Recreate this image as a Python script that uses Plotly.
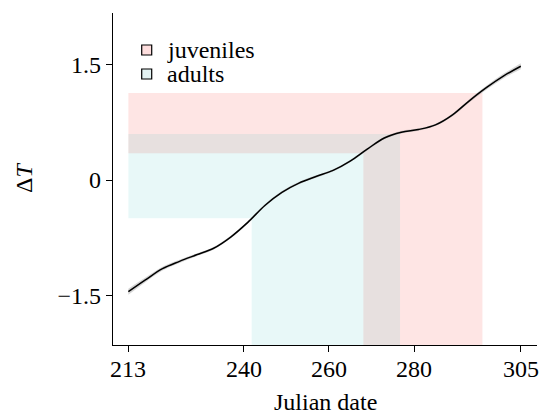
import plotly.graph_objects as go

# --- data ---
dates = [213, 217, 221, 225, 229, 233, 237, 241, 245, 249, 253, 257,
         261, 265, 269, 273, 277, 281, 285, 289, 293, 297, 301, 305]
delta_t = [-1.449, -1.296, -1.15, -1.055, -0.97, -0.885, -0.74, -0.55,
           -0.33, -0.16, -0.04, 0.045, 0.125, 0.245, 0.40, 0.545, 0.62,
           0.655, 0.715, 0.845, 1.03, 1.20, 1.35, 1.475]
ci_half = [0.04, 0.03, 0.025, 0.02, 0.018, 0.016, 0.016, 0.016, 0.016, 0.016,
           0.016, 0.016, 0.016, 0.016, 0.016, 0.016, 0.016, 0.016, 0.016, 0.018,
           0.02, 0.025, 0.03, 0.04]

groups = ["juveniles", "adults"]
group_dates = {"juveniles": [268.1, 296.0], "adults": [241.9, 276.7]}
group_dt = {"juveniles": [0.346, 1.13], "adults": [-0.497, 0.597]}
group_fill = {"juveniles": "rgba(248,118,109,0.19)", "adults": "rgba(0,175,180,0.09)"}
group_legend = {"juveniles": "rgb(254,222,222)", "adults": "rgb(228,243,243)"}

x_ticks = [213, 240, 260, 280, 305]
x_ticktext = ["213", "240", "260", "280", "305"]
y_ticks = [-1.5, 0, 1.5]
y_ticktext = ["\u22121.5", "0", "1.5"]

x_range = [209.4, 308.8]
y_range = [-2.14, 2.166]

FONT = "Liberation Serif, Times New Roman, DejaVu Serif, serif"
FS = 24

fig = go.Figure()

x0 = dates[0]
for g in groups:
    d1, d2 = group_dates[g]
    t1, t2 = group_dt[g]
    ymin = y_range[0]
    fig.add_trace(go.Scatter(
        x=[x0, d1, d1, d2, d2, x0, x0],
        y=[t1, t1, ymin, ymin, t2, t2, t1],
        fill="toself", fillcolor=group_fill[g], mode="none",
        hoverinfo="skip", showlegend=False))

upper = [v + h for v, h in zip(delta_t, ci_half)]
lower = [v - h for v, h in zip(delta_t, ci_half)]
fig.add_trace(go.Scatter(x=dates, y=upper, mode="lines", line=dict(width=0, shape="spline"),
                         showlegend=False, hoverinfo="skip"))
fig.add_trace(go.Scatter(x=dates, y=lower, mode="lines", line=dict(width=0, shape="spline"),
                         fill="tonexty", fillcolor="rgba(150,150,150,0.4)",
                         showlegend=False, hoverinfo="skip"))
fig.add_trace(go.Scatter(x=dates, y=delta_t, mode="lines",
                         line=dict(color="black", width=1.5, shape="spline", smoothing=1.0),
                         showlegend=False))

# legend (drawn manually)
leg_rows = {"juveniles": (0.9036, 0.8735, 0.8886), "adults": (0.8313, 0.8012, 0.8163)}
for g in groups:
    top, bot, mid = leg_rows[g]
    fig.add_shape(type="rect", xref="paper", yref="paper", x0=0.0677, x1=0.0913,
                  y0=bot, y1=top, fillcolor=group_legend[g],
                  line=dict(color="black", width=1.2))
    fig.add_annotation(text=g, xref="paper", yref="paper", x=0.1235, y=mid,
                       xanchor="left", yanchor="middle", showarrow=False,
                       font=dict(family=FONT, size=FS, color="black"))

# x tick labels placed close to the axis, as in the reference
for v, t in zip(x_ticks, x_ticktext):
    fig.add_annotation(text=t, x=v, xref="x", yref="paper", y=-0.072,
                       xanchor="center", yanchor="middle", showarrow=False,
                       font=dict(family=FONT, size=FS, color="black"))

fig.add_annotation(text="Julian date", xref="paper", yref="paper", x=0.5, y=-0.172,
                   xanchor="center", yanchor="middle", showarrow=False,
                   font=dict(family=FONT, size=FS, color="black"))
fig.add_annotation(text="\u0394<i>T</i>", xref="paper", yref="paper", x=-0.21, y=0.503,
                   xanchor="center", yanchor="middle", showarrow=False, textangle=-90,
                   font=dict(family=FONT, size=FS, color="black"))

fig.update_layout(
    width=540, height=414,
    margin=dict(l=113, r=3, t=13, b=69),
    paper_bgcolor="white", plot_bgcolor="white",
    font=dict(family=FONT, size=FS, color="black"),
    showlegend=False,
)
fig.update_xaxes(range=x_range, tickvals=x_ticks, showticklabels=False, ticks="outside",
                 ticklen=6, tickwidth=1.3, tickcolor="black", showline=True,
                 linecolor="black", linewidth=1.4, showgrid=False, zeroline=False)
fig.update_yaxes(range=y_range, tickvals=y_ticks, ticktext=y_ticktext, ticks="outside",
                 ticklen=6, tickwidth=1.3, tickcolor="black", showline=True,
                 linecolor="black", linewidth=1.4, showgrid=False, zeroline=False,
                 tickfont=dict(family=FONT, size=FS))

fig.write_html("out.html", config={"displayModeBar": False},
               post_script="document.body.style.margin='0';document.body.style.overflow='hidden';")
